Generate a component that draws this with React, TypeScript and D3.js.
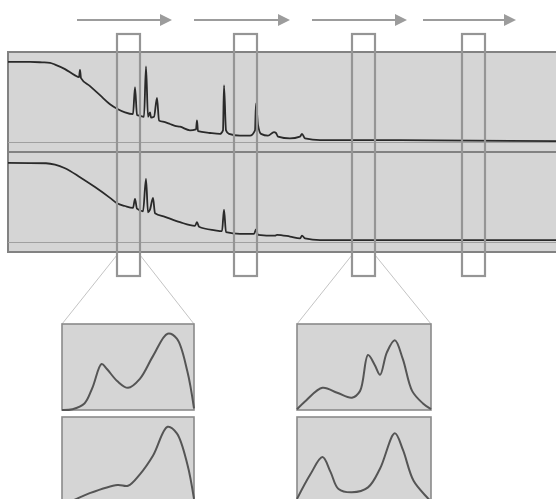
import * as d3 from "d3";

// spectrum: [channel, amplitude 0-100]
const upperSpectrum: [number, number][] = [
  [0, 89], [22, 89], [34, 88.5], [42, 88], [47, 86], [57, 81], [67, 74], [71, 72], [72, 80], [73, 71],
  [82, 62], [92, 52], [102, 42], [109, 37], [117, 33], [125, 31], [127, 61], [129, 30],
  [132, 29], [136, 28], [138, 84], [140, 28], [142, 33], [143, 27], [146, 28], [149, 49],
  [151, 24], [157, 22], [162, 20], [167, 18], [172, 17], [182, 13], [188, 14], [189, 24],
  [190, 12], [202, 10], [212, 9], [215, 13], [216, 63], [218, 13], [221, 9], [232, 7],
  [242, 7], [247, 13], [248, 43], [250, 19], [253, 9], [260, 7], [266, 11], [268, 10],
  [270, 6], [282, 4], [292, 6], [294, 9], [297, 4], [312, 2], [342, 2], [392, 2], [548, 1],
];

const lowerSpectrum: [number, number][] = [
  [0, 88], [38, 87.5], [47, 86], [57, 82], [72, 72], [87, 61], [102, 49], [109, 43], [117, 40],
  [125, 38], [127, 48], [129, 37], [135, 34], [138, 70], [140, 33], [142, 36], [145, 49],
  [147, 32], [157, 28], [172, 22], [187, 18], [189, 22], [191, 17], [207, 13], [214, 12],
  [216, 36], [218, 11], [232, 9], [246, 9], [248, 14], [250, 8], [267, 7], [269, 8],
  [282, 6], [292, 4], [294, 7], [297, 4], [312, 2], [548, 2],
];

// windows slid along the spectrum
const windowStarts = [109, 226, 344, 454];
const windowWidth = 23;
const arrowSpans: [number, number][] = [[69, 164], [186, 282], [304, 399], [415, 508]];

// zoomed views of windows 1 and 3: [position 0-100, amplitude 0-100]
const zoomA1: [number, number][] = [
  [0, 0], [8, 1], [17, 8], [23, 27], [30, 56], [34, 50], [42, 35], [50, 27], [59, 38],
  [69, 66], [80, 93], [87, 87], [95, 47], [100, 2],
];
const zoomA2: [number, number][] = [
  [0, -3], [11, 5], [21, 12], [42, 22], [50, 21], [59, 35], [69, 58], [80, 93], [87, 85],
  [95, 47], [100, 5],
];
const zoomB1: [number, number][] = [
  [0, 1], [7, 12], [19, 27], [30, 21], [41, 15], [47, 23], [53, 67], [58, 55], [62, 43],
  [67, 70], [73, 85], [79, 62], [86, 23], [94, 8], [100, 1],
];
const zoomB2: [number, number][] = [
  [0, 5], [10, 35], [19, 56], [25, 38], [31, 17], [41, 13], [53, 19], [62, 42], [73, 85],
  [79, 65], [87, 27], [97, 7], [100, 2],
];
const zoomWindows = [0, 2];
const zoomCurves = [[zoomA1, zoomA2], [zoomB1, zoomB2]];

const W = 556;
const H = 499;
const panelFill = "#d5d5d5";
const borderColor = "#828282";

export default function App() {
  const x = d3.scaleLinear().domain([0, 548]).range([8, 556]);
  const yUpper = d3.scaleLinear().domain([0, 100]).range([142, 52]);
  const yLower = d3.scaleLinear().domain([0, 100]).range([242, 152]);

  const specLine = (y: d3.ScaleLinear<number, number>) =>
    d3.line<[number, number]>().x(d => x(d[0])).y(d => y(d[1])).curve(d3.curveMonotoneX);

  const insets = [
    { x0: 62, x1: 194 },
    { x0: 297, x1: 431 },
  ];
  const insetRows = [
    { top: 324, bottom: 410 },
    { top: 417, bottom: 503 },
  ];

  return (
    <svg width={W} height={H} style={{ position: "absolute", left: 0, top: 0, background: "#fff" }}>
      {/* spectrum panels */}
      {[yUpper, yLower].map((y, i) => (
        <g key={i}>
          <rect x={x(0)} y={y(100)} width={W} height={100} fill={panelFill}
            stroke={borderColor} strokeWidth={2} />
          <line x1={x(0)} x2={W} y1={y(0) + 0.5} y2={y(0) + 0.5} stroke="#a0a0a0" strokeWidth={1} />
        </g>
      ))}
      <path d={specLine(yUpper)(upperSpectrum) ?? ""} fill="none" stroke="#2a2a2a" strokeWidth={1.8} />
      <path d={specLine(yLower)(lowerSpectrum) ?? ""} fill="none" stroke="#2a2a2a" strokeWidth={1.8} />

      {/* zoom guide lines */}
      {zoomWindows.map((wi, i) => {
        const l = x(windowStarts[wi]);
        const r = x(windowStarts[wi] + windowWidth);
        return (
          <g key={i} stroke="#c4c4c4" strokeWidth={1}>
            <line x1={l} y1={255} x2={insets[i].x0} y2={insetRows[0].top} />
            <line x1={r} y1={255} x2={insets[i].x1} y2={insetRows[0].top} />
          </g>
        );
      })}

      {/* sliding windows */}
      {windowStarts.map((s, i) => (
        <rect key={i} x={x(s)} y={34} width={x(s + windowWidth) - x(s)} height={242}
          fill="none" stroke="#959595" strokeWidth={2.2} />
      ))}

      {/* arrows */}
      {arrowSpans.map(([a, b], i) => (
        <g key={i} fill="#9c9c9c" stroke="#9c9c9c">
          <line x1={x(a)} x2={x(b) - 10} y1={20} y2={20} strokeWidth={2} />
          <path d={`M${x(b)},20 L${x(b) - 12},14 L${x(b) - 12},26 Z`} stroke="none" />
        </g>
      ))}

      {/* zoomed insets */}
      {insets.map((ins, i) => {
        const ix = d3.scaleLinear().domain([0, 100]).range([ins.x0, ins.x1]);
        return insetRows.map((row, j) => {
          const iy = d3.scaleLinear().domain([0, 100]).range([row.bottom, row.top + 4]);
          const line = d3.line<[number, number]>()
            .x(d => ix(d[0])).y(d => iy(d[1]))
            .curve(d3.curveCatmullRom.alpha(0.5));
          return (
            <g key={`${i}-${j}`}>
              <rect x={ins.x0} y={row.top} width={ins.x1 - ins.x0} height={row.bottom - row.top}
                fill={panelFill} stroke="#8a8a8a" strokeWidth={1.6} />
              <path d={line(zoomCurves[i][j]) ?? ""} fill="none" stroke="#555" strokeWidth={2} />
            </g>
          );
        });
      })}
    </svg>
  );
}
